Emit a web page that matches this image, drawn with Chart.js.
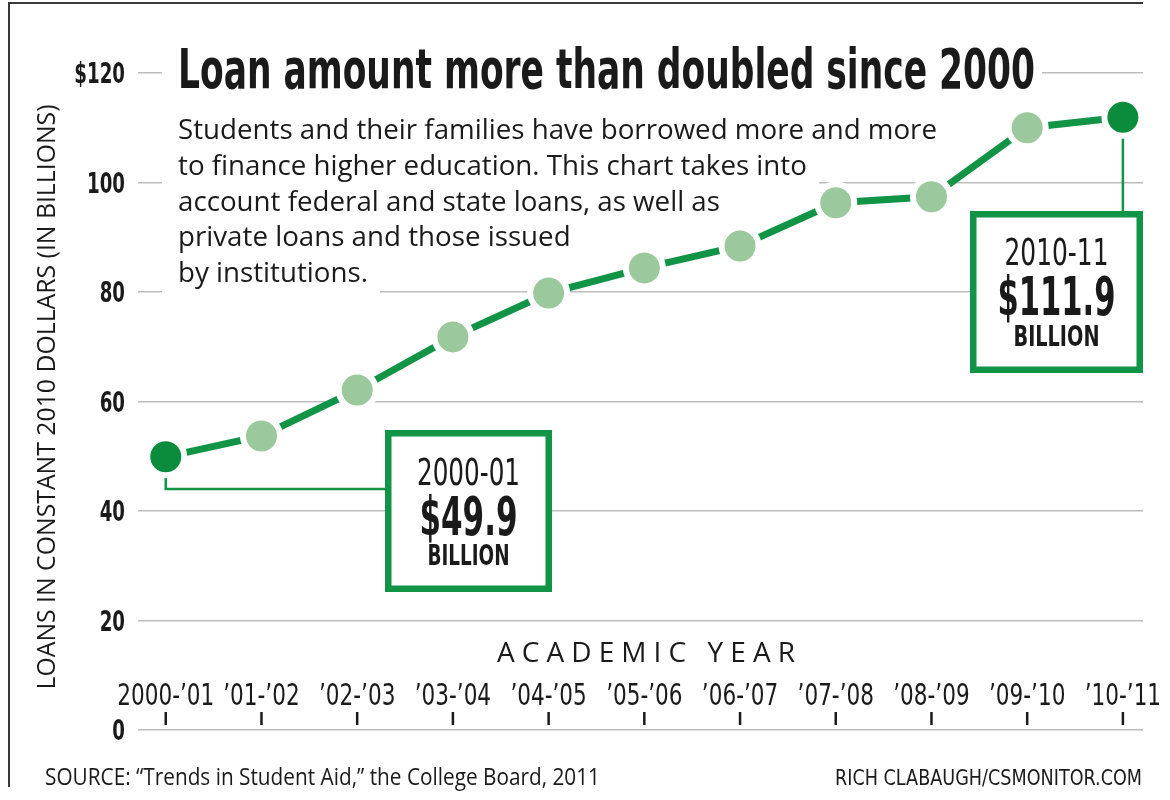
<!DOCTYPE html>
<html>
<head>
<meta charset="utf-8">
<script src="https://cdn.jsdelivr.net/npm/chart.js@4.4.0/dist/chart.umd.min.js"></script>
<style>
  html, body { margin: 0; padding: 0; background: #fff; }
</style>
</head>
<body>
<canvas id="loanChart" width="1170" height="800"></canvas>
<script>
// data
var yearLabels = ["2000-\u201901", "\u201901-\u201902", "\u201902-\u201903", "\u201903-\u201904", "\u201904-\u201905",
                  "\u201905-\u201906", "\u201906-\u201907", "\u201907-\u201908", "\u201908-\u201909", "\u201909-\u201910", "\u201910-\u201911"];
var loanBillions = [49.9, 53.7, 62.1, 71.8, 79.8, 84.4, 88.4, 96.3, 97.4, 110.0, 111.9];
var yTickValues = [0, 20, 40, 60, 80, 100, 120];
var highlighted = [0, 10];

var paragraph = [
    "Students and their families have borrowed more and more",
    "to finance higher education. This chart takes into",
    "account federal and state loans, as well as",
    "private loans and those issued",
    "by institutions."
];

var GREEN = "#119446";
var DARK_GREEN = "#0a8c3c";
var LIGHT_GREEN = "#9cc89d";
var NARROW = '"Liberation Sans Narrow", "DejaVu Sans Condensed", sans-serif';
var SANS = '"Open Sans", "Noto Sans", sans-serif';

// draws text squeezed/stretched to a given width
function fitText(ctx, text, x, y, font, width, align, color, baseline) {
    ctx.save();
    ctx.font = font;
    ctx.fillStyle = color || "#1a1a1a";
    var s = width / ctx.measureText(text).width;
    ctx.translate(x, y);
    ctx.scale(s, 1);
    ctx.textAlign = align || "left";
    ctx.textBaseline = baseline || "alphabetic";
    ctx.fillText(text, 0, 0);
    ctx.restore();
}

function calloutBox(ctx, left, top, right, bottom, lines) {
    ctx.save();
    ctx.fillStyle = "#fff";
    ctx.fillRect(left, top, right - left, bottom - top);
    ctx.strokeStyle = GREEN;
    ctx.lineWidth = 6.5;
    ctx.strokeRect(left + 3.25, top + 3.25, right - left - 6.5, bottom - top - 6.5);
    ctx.restore();
    var cx = (left + right) / 2;
    lines.forEach(function (l) {
        fitText(ctx, l.text, cx, l.y, l.font, l.width, "center", "#1a1a1a");
    });
}

var decor = {
    id: "decor",
    beforeDatasetsDraw: function (chart) {
        var ctx = chart.ctx;
        var x = chart.scales.x, y = chart.scales.y;

        // frame
        ctx.save();
        ctx.strokeStyle = "#3a3a3a";
        ctx.lineWidth = 2;
        ctx.beginPath();
        ctx.moveTo(9, 787);
        ctx.lineTo(9, 3);
        ctx.lineTo(1143, 3);
        ctx.stroke();
        ctx.restore();

        // y tick labels, narrow bold
        ctx.save();
        ctx.font = "bold 28px " + NARROW;
        var sqY = 38 / ctx.measureText("100").width;
        ctx.restore();
        yTickValues.forEach(function (v) {
            var lab = v === 120 ? "$120" : String(v);
            ctx.save();
            ctx.font = "bold 28px " + NARROW;
            var w = ctx.measureText(lab).width * sqY;
            ctx.restore();
            fitText(ctx, lab, 125, y.getPixelForValue(v) + 10, "bold 28px " + NARROW, w, "right", "#1a1a1a");
        });

        // title
        ctx.fillStyle = "#fff";
        ctx.fillRect(162, 40, 880, 60);
        fitText(ctx, "Loan amount more than doubled since 2000", 178, 88,
                "bold 56px " + NARROW, 857, "left", "#1a1a1a");

        // paragraph with white backing
        ctx.save();
        ctx.font = "27px " + SANS;
        var squeeze = 759 / ctx.measureText(paragraph[0]).width;
        ctx.restore();
        paragraph.forEach(function (line, i) {
            var base = 139 + i * 35.8;
            ctx.save();
            ctx.font = "27px " + SANS;
            var w = ctx.measureText(line).width * squeeze;
            ctx.fillStyle = "#fff";
            ctx.fillRect(162, base - 28, w + 28, 42);
            ctx.restore();
            fitText(ctx, line, 178, base, "27px " + SANS, w, "left", "#1a1a1a");
        });

        // connectors
        var p0x = x.getPixelForValue(0), p0y = y.getPixelForValue(loanBillions[0]);
        var p1x = x.getPixelForValue(10), p1y = y.getPixelForValue(loanBillions[10]);
        ctx.save();
        ctx.strokeStyle = GREEN;
        ctx.lineWidth = 2.5;
        ctx.beginPath();
        ctx.moveTo(p0x, p0y);
        ctx.lineTo(p0x, 489);
        ctx.lineTo(390, 489);
        ctx.moveTo(p1x, p1y);
        ctx.lineTo(p1x, 214);
        ctx.stroke();
        ctx.restore();

        calloutBox(ctx, 385, 430, 552, 592, [
            { text: "2000-01", y: 485, font: "38px " + NARROW, width: 103 },
            { text: "$49.9", y: 535, font: "bold 54px " + NARROW, width: 98 },
            { text: "BILLION", y: 565, font: "bold 29px " + NARROW, width: 82 }
        ]);
        calloutBox(ctx, 970, 211, 1143, 373, [
            { text: "2010-11", y: 265, font: "38px " + NARROW, width: 104 },
            { text: "$111.9", y: 315, font: "bold 54px " + NARROW, width: 118 },
            { text: "BILLION", y: 346, font: "bold 29px " + NARROW, width: 86 }
        ]);
    },
    afterDraw: function (chart) {
        var ctx = chart.ctx;
        var x = chart.scales.x;

        // category labels and tick marks above the zero line
        ctx.save();
        ctx.font = "31px " + NARROW;
        var sq = 97 / ctx.measureText(yearLabels[0]).width;
        ctx.restore();
        yearLabels.forEach(function (lab, i) {
            var px = x.getPixelForValue(i);
            ctx.save();
            ctx.font = "31px " + NARROW;
            var w = ctx.measureText(lab).width * sq;
            ctx.restore();
            fitText(ctx, lab, px, 705, "31px " + NARROW, w, "center", "#1a1a1a");
            ctx.save();
            ctx.strokeStyle = "#1a1a1a";
            ctx.lineWidth = 2.5;
            ctx.beginPath();
            ctx.moveTo(px, 712);
            ctx.lineTo(px, 725);
            ctx.stroke();
            ctx.restore();
        });

        // spaced axis caption
        var cap = "ACADEMIC YEAR";
        ctx.save();
        ctx.font = "28px " + SANS;
        ctx.fillStyle = "#1a1a1a";
        var total = 0;
        for (var k = 0; k < cap.length; k++) total += ctx.measureText(cap[k]).width;
        var gap = (298 - total) / (cap.length - 1);
        var cx = 497;
        for (var j = 0; j < cap.length; j++) {
            ctx.fillText(cap[j], cx, 662);
            cx += ctx.measureText(cap[j]).width + gap;
        }
        ctx.restore();

        // y axis title
        ctx.save();
        ctx.translate(46, 397);
        ctx.rotate(-Math.PI / 2);
        fitText(ctx, "LOANS IN CONSTANT 2010 DOLLARS (IN BILLIONS)", 0, 9,
                "25px " + SANS, 585, "center", "#1a1a1a");
        ctx.restore();

        // footer
        fitText(ctx, "SOURCE: \u201cTrends in Student Aid,\u201d the College Board, 2011", 45, 785,
                "23px " + SANS, 555, "left", "#1a1a1a");
        fitText(ctx, "RICH CLABAUGH/CSMONITOR.COM", 1142, 785,
                "22px " + NARROW, 307, "right", "#1a1a1a");
    }
};

var pointColors = loanBillions.map(function (v, i) {
    return highlighted.indexOf(i) >= 0 ? DARK_GREEN : LIGHT_GREEN;
});

var ctx1 = document.getElementById("loanChart").getContext("2d");
new Chart(ctx1, {
    type: "line",
    data: {
        datasets: [{
            data: loanBillions.map(function (v, i) { return { x: i, y: v }; }),
            borderColor: GREEN,
            borderWidth: 7,
            tension: 0,
            pointRadius: 18.5,
            pointHoverRadius: 18.5,
            pointBorderWidth: 6,
            pointBorderColor: "#fff",
            pointBackgroundColor: pointColors,
            clip: false
        }]
    },
    options: {
        responsive: false,
        animation: false,
        devicePixelRatio: 1,
        layout: { padding: { left: 0, right: 27, top: 73, bottom: 70 } },
        plugins: { legend: { display: false }, tooltip: { enabled: false } },
        scales: {
            x: {
                type: "linear",
                min: -0.29,
                max: 10.21,
                display: false
            },
            y: {
                min: 0,
                max: 120,
                afterBuildTicks: function (scale) {
                    scale.ticks = yTickValues.map(function (v) { return { value: v }; });
                },
                afterFit: function (scale) { scale.width = 138; },
                ticks: { display: false },
                grid: { color: "#bdbdbd", lineWidth: 1.5, drawTicks: false },
                border: { display: false }
            }
        }
    },
    plugins: [decor]
});
</script>
</body>
</html>
